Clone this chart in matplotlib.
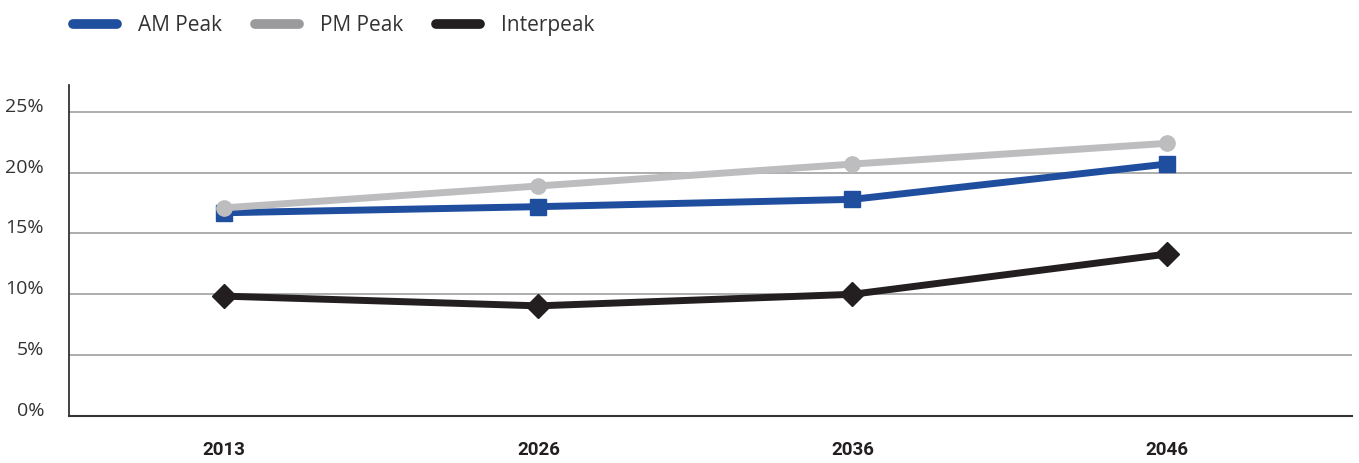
import matplotlib
matplotlib.use("Agg")
import matplotlib.pyplot as plt
from matplotlib.lines import Line2D
from matplotlib.ticker import FuncFormatter

years = ["2013", "2026", "2036", "2046"]
am_peak = [16.7, 17.2, 17.8, 20.7]
pm_peak = [17.1, 18.9, 20.7, 22.4]
interpeak = [9.85, 9.05, 10.0, 13.3]
y_ticks = [0, 5, 10, 15, 20, 25]

blue = "#1f4e9f"
gray = "#bdbdc0"
gray_leg = "#9a9a9c"
black = "#231f20"

fig = plt.figure(figsize=(13.59, 4.63), dpi=100)
ax = fig.add_axes([0.0508, 0.1015, 0.944, 0.715])

x = list(range(len(years)))
ax.plot(x, am_peak, color=blue, lw=5, marker="s", ms=11, zorder=3)
ax.plot(x, pm_peak, color=gray, lw=5, marker="o", ms=11, zorder=4)
ax.plot(x, interpeak, color=black, lw=5, marker="D", ms=12, zorder=5)

ax.set_xlim(-0.494, 3.59)
ax.set_ylim(0, 27.2)
ax.set_yticks(y_ticks)
ax.yaxis.set_major_formatter(FuncFormatter(lambda v, p: f"{v:.0f}%"))
ax.set_xticks(x)
ax.set_xticklabels(years, fontfamily="Roboto", fontweight="bold",
                   fontsize=13.5, color="#231f20")
for lab in ax.get_yticklabels():
    lab.set_fontfamily("Open Sans")
    lab.set_fontsize(14)
    lab.set_color("#333333")
    lab.set_va("baseline")
ax.tick_params(axis="both", length=0)
ax.tick_params(axis="y", pad=18)
ax.tick_params(axis="x", pad=18)

ax.grid(axis="y", color="#a0a0a0", lw=1.2)
ax.set_axisbelow(True)
for s in ["top", "right"]:
    ax.spines[s].set_visible(False)
ax.spines["left"].set_color("#333333")
ax.spines["left"].set_linewidth(1.3)
ax.spines["bottom"].set_color("#333333")
ax.spines["bottom"].set_linewidth(1.5)

handles = [
    Line2D([], [], color=blue, lw=7, solid_capstyle="round"),
    Line2D([], [], color=gray_leg, lw=7, solid_capstyle="round"),
    Line2D([], [], color=black, lw=7, solid_capstyle="round"),
]
fig.legend(handles, ["AM Peak", "PM Peak", "Interpeak"], loc="upper left",
           bbox_to_anchor=(0.040, 1.008), ncol=3, frameon=False,
           prop={"family": "Open Sans", "size": 15}, handlelength=2.1,
           handletextpad=1.0, columnspacing=1.6, labelcolor="#333333")

fig.savefig("out.png", dpi=100)
